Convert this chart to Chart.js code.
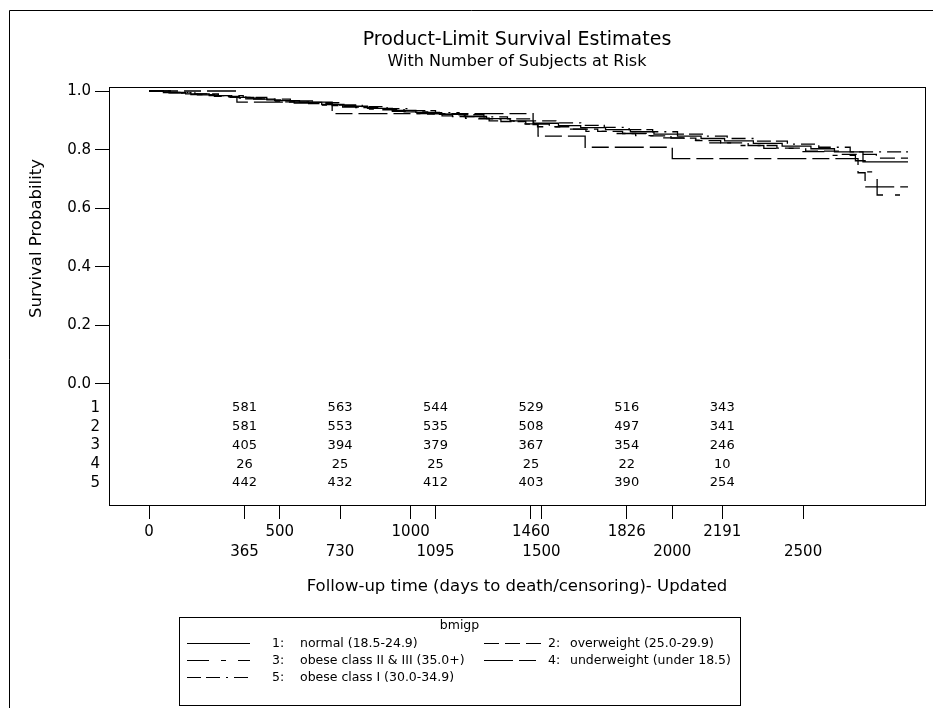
<!DOCTYPE html>
<html>
<head>
<meta charset="utf-8">
<title>Product-Limit Survival Estimates</title>
<script src="https://cdn.jsdelivr.net/npm/chart.js@4.4.1/dist/chart.umd.min.js"></script>
<style>
  html, body { margin: 0; padding: 0; background: #fff; }
</style>
</head>
<body>
<canvas id="km" width="933" height="708"></canvas>
<script>
// ---------- DATA ----------
const groupCodes = ["1", "2", "3", "4", "5"];
const groupLabels = [
  "normal (18.5-24.9)",
  "overweight (25.0-29.9)",
  "obese class II & III (35.0+)",
  "underweight (under 18.5)",
  "obese class I (30.0-34.9)"
];

// step curves (days, survival)
const times1 = [0, 55, 140, 230, 310, 400, 480, 575, 660, 745, 835, 930, 1020, 1110, 1205, 1290, 1380, 1470, 1565, 1650, 1745, 1840, 1930, 2020, 2110, 2200, 2310, 2420, 2530, 2620, 2729, 2901];
const surv1  = [1, 0.995, 0.990, 0.984, 0.978, 0.972, 0.967, 0.961, 0.954, 0.948, 0.941, 0.934, 0.927, 0.920, 0.913, 0.906, 0.898, 0.890, 0.882, 0.875, 0.868, 0.861, 0.853, 0.846, 0.838, 0.830, 0.821, 0.812, 0.803, 0.792, 0.758, 0.758];

const times2 = [0, 70, 160, 250, 345, 430, 520, 610, 700, 790, 885, 975, 1065, 1160, 1250, 1345, 1440, 1530, 1620, 1715, 1810, 1900, 1995, 2090, 2185, 2290, 2400, 2510, 2640, 2780, 2901];
const surv2  = [1, 0.994, 0.988, 0.982, 0.976, 0.970, 0.963, 0.957, 0.950, 0.943, 0.936, 0.929, 0.921, 0.913, 0.905, 0.896, 0.887, 0.878, 0.870, 0.862, 0.855, 0.847, 0.839, 0.831, 0.823, 0.814, 0.805, 0.795, 0.784, 0.771, 0.771];

const times3 = [0, 90, 185, 280, 370, 465, 555, 650, 740, 840, 930, 1025, 1120, 1210, 1300, 1395, 1485, 1580, 1670, 1765, 1860, 1950, 2045, 2140, 2240, 2350, 2470, 2600, 2700, 2737, 2783, 2901];
const surv3  = [1, 0.993, 0.987, 0.980, 0.973, 0.966, 0.959, 0.952, 0.945, 0.938, 0.931, 0.923, 0.915, 0.907, 0.898, 0.888, 0.878, 0.870, 0.862, 0.855, 0.848, 0.840, 0.832, 0.823, 0.814, 0.804, 0.793, 0.780, 0.762, 0.724, 0.645, 0.645];

const times4 = [0, 336, 700, 1468, 1487, 1667, 2000, 2710, 2737, 2901];
const surv4  = [1, 0.962, 0.923, 0.885, 0.846, 0.808, 0.769, 0.721, 0.673, 0.673];

const times5 = [0, 80, 175, 265, 360, 450, 540, 635, 725, 815, 910, 1000, 1095, 1185, 1280, 1370, 1465, 1555, 1650, 1740, 1835, 1925, 2020, 2115, 2210, 2320, 2440, 2560, 2680, 2901];
const surv5  = [1, 0.995, 0.990, 0.984, 0.978, 0.972, 0.966, 0.960, 0.953, 0.947, 0.940, 0.933, 0.926, 0.919, 0.912, 0.905, 0.898, 0.891, 0.883, 0.876, 0.868, 0.861, 0.853, 0.846, 0.838, 0.829, 0.819, 0.808, 0.792, 0.792];

// number of subjects at risk
const riskTimes = [365, 730, 1095, 1460, 1826, 2191];
const risk1 = [581, 563, 544, 529, 516, 343];
const risk2 = [581, 553, 535, 508, 497, 341];
const risk3 = [405, 394, 379, 367, 354, 246];
const risk4 = [26, 25, 25, 25, 22, 10];
const risk5 = [442, 432, 412, 403, 390, 254];

// axis ticks
const xTicksTop = [0, 500, 1000, 1460, 1826, 2191];
const xTicksBottom = [365, 730, 1095, 1500, 2000, 2500];
const yTicks = [0, 0.2, 0.4, 0.6, 0.8, 1.0];

// ---------- STYLE ----------
const FONT = "'DejaVu Sans', 'Liberation Sans', sans-serif";
const dashes = [[], [15, 6], [22, 12, 5, 12], [29, 6, 17, 6], [14, 5, 14, 6, 2, 6]];
// legend box: columns hold sample start, code start, text start (relative to box left)
const LEGEND = {
  left: 179, top: 617, width: 561, height: 88, rowY0: 26, rowH: 17,
  cols: [{ sample: 8, code: 93, text: 121, len: 63 }, { sample: 305, code: 369, text: 391, len: 57 }]
};

Chart.defaults.font.family = FONT;
Chart.defaults.color = "#000";

const allTimes = [times1, times2, times3, times4, times5];
const allSurv = [surv1, surv2, surv3, surv4, surv5];
const allRisk = [risk1, risk2, risk3, risk4, risk5];

const datasets = allTimes.map((t, i) => ({
  label: groupCodes[i] + ": " + groupLabels[i],
  data: t.map((v, j) => ({ x: v, y: allSurv[i][j] })),
  yAxisID: "y",
  stepped: true,
  borderColor: "#000",
  borderWidth: 1.3,
  borderDash: dashes[i],
  pointRadius: 0,
  fill: false
}));

// outer frame + box round the plot
const framePlugin = {
  id: "frame",
  afterDraw(chart) {
    const { ctx, chartArea: a } = chart;
    ctx.save();
    ctx.strokeStyle = "#000";
    ctx.lineWidth = 1;
    ctx.setLineDash([]);
    ctx.strokeRect(Math.round(a.left) + 0.5, Math.round(a.top) + 0.5,
      Math.round(a.right - a.left), Math.round(a.bottom - a.top));
    ctx.beginPath();
    ctx.moveTo(9.5, 708);
    ctx.lineTo(9.5, 10.5);
    ctx.lineTo(933, 10.5);
    ctx.stroke();
    ctx.restore();
  }
};

// at-risk numbers under the curves
const atRiskPlugin = {
  id: "atRisk",
  afterDatasetsDraw(chart) {
    const { ctx } = chart;
    const xs = chart.scales.x, yr = chart.scales.yRisk;
    ctx.save();
    ctx.font = "13px " + FONT;
    ctx.fillStyle = "#000";
    ctx.textAlign = "center";
    ctx.textBaseline = "middle";
    allRisk.forEach((row, r) => {
      row.forEach((n, i) => {
        ctx.fillText(String(n), xs.getPixelForValue(riskTimes[i]), yr.getPixelForValue(r + 1));
      });
    });
    ctx.restore();
  }
};

// boxed legend in two columns
const boxLegendPlugin = {
  id: "boxLegend",
  afterDraw(chart) {
    const { ctx } = chart;
    const L = LEGEND;
    ctx.save();
    ctx.strokeStyle = "#000";
    ctx.fillStyle = "#000";
    ctx.lineWidth = 1;
    ctx.strokeRect(L.left + 0.5, L.top + 0.5, L.width, L.height);
    ctx.font = "12.5px " + FONT;
    ctx.textBaseline = "middle";
    ctx.textAlign = "center";
    ctx.fillText("bmigp", L.left + L.width / 2, L.top + 9);
    ctx.textAlign = "left";
    chart.data.datasets.forEach((ds, i) => {
      const c = L.cols[i % 2], row = Math.floor(i / 2);
      const y = Math.round(L.top + L.rowY0 + row * L.rowH) + 0.5;
      ctx.setLineDash(ds.borderDash);
      ctx.beginPath();
      ctx.moveTo(L.left + c.sample, y);
      ctx.lineTo(L.left + c.sample + c.len, y);
      ctx.stroke();
      ctx.setLineDash([]);
      ctx.fillText(groupCodes[i] + ":", L.left + c.code, y);
      ctx.fillText(groupLabels[i], L.left + c.text, y);
    });
    ctx.restore();
  }
};

new Chart(document.getElementById("km"), {
  type: "line",
  data: { datasets },
  plugins: [framePlugin, atRiskPlugin, boxLegendPlugin],
  options: {
    responsive: false,
    animation: false,
    events: [],
    layout: { padding: { top: 0, left: 0, right: 8, bottom: 95 } },
    plugins: {
      legend: { display: false },
      tooltip: { enabled: false },
      title: {
        display: true,
        fullSize: false,
        text: "Product-Limit Survival Estimates",
        color: "#000",
        font: { size: 19, weight: "normal" },
        padding: { top: 28.6, bottom: 1 }
      },
      subtitle: {
        display: true,
        fullSize: false,
        text: "With Number of Subjects at Risk",
        color: "#000",
        font: { size: 16, weight: "normal" },
        padding: { top: 0, bottom: 15.4 }
      }
    },
    scales: {
      x: {
        type: "linear",
        position: "bottom",
        min: -153,
        max: 2966,
        afterBuildTicks: s => { s.ticks = xTicksTop.concat(xTicksBottom).sort((a, b) => a - b).map(v => ({ value: v })); },
        afterFit: s => { s.height = 108; },
        ticks: {
          autoSkip: false,
          maxRotation: 0,
          minRotation: 0,
          padding: 3,
          color: "#000",
          font: { size: 15, lineHeight: 1.333 },
          callback: v => xTicksTop.includes(v) ? [String(v), ""] : ["", String(v)]
        },
        grid: { drawOnChartArea: false, tickLength: 14, tickColor: "#000", color: "#000" },
        border: { color: "#000" },
        title: {
          display: true,
          text: "Follow-up time (days to death/censoring)- Updated",
          color: "#000",
          font: { size: 16.5 },
          padding: { top: 0, bottom: 16 }
        }
      },
      // risk rows first: left boxes are stacked in reverse order, so y ends on top
      yRisk: {
        type: "linear",
        position: "left",
        stack: "left",
        stackWeight: 115,
        reverse: true,
        min: 0.04,
        max: 6.173,
        afterBuildTicks: s => { s.ticks = groupCodes.map(c => ({ value: Number(c) })); },
        afterFit: s => { s.width = 109; },
        ticks: { color: "#000", padding: 9, font: { size: 15 }, callback: v => String(v) },
        grid: { drawOnChartArea: false, drawTicks: false, color: "#000" },
        border: { color: "#000" }
      },
      y: {
        type: "linear",
        position: "left",
        stack: "left",
        stackWeight: 303,
        min: -0.0205,
        max: 1.0137,
        afterBuildTicks: s => { s.ticks = yTicks.map(v => ({ value: v })); },
        afterFit: s => { s.width = 109; },
        ticks: { color: "#000", padding: 4, font: { size: 15 }, callback: v => Number(v).toFixed(1) },
        grid: { drawOnChartArea: false, tickLength: 14, tickColor: "#000", color: "#000" },
        border: { color: "#000" },
        title: {
          display: true,
          text: "Survival Probability",
          color: "#000",
          font: { size: 16.5 },
          padding: { top: 27, bottom: 0 }
        }
      }
    }
  }
});
</script>
</body>
</html>
